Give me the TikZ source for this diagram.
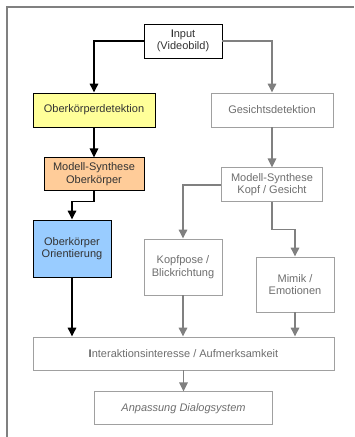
\documentclass[tikz,border=0pt]{standalone}
\usepackage{fontspec}
\setmainfont{Liberation Sans}
\usetikzlibrary{arrows.meta}
\usetikzlibrary{positioning}
\definecolor{ubyellow}{HTML}{FFFF99}
\definecolor{uborange}{HTML}{FFCC99}
\definecolor{ubblue}{HTML}{99CCFF}
\definecolor{passline}{HTML}{A0A0A0}
\definecolor{passtext}{HTML}{6E6E6E}
\definecolor{passarrow}{HTML}{808080}
\tikzset {
  % every block of the flow
  block/.style = {
    rectangle,
    inner sep = 0,
    align = center,
    font = \fontsize{11}{12.5}\selectfont
  },
  % block of the upper body branch
  act/.style = {
    block,
    draw = black,
    line width = 0.9pt,
    text = black!80
  },
  % block of the face branch
  pas/.style = {
    block,
    draw = passline,
    line width = 0.9pt,
    fill = white,
    text = passtext
  }
}
\tikzset {
  flow path/.style = {
    line width = 1.6pt,
    -{Triangle[width=8.5pt,length=9pt]}
  },
  % black connector
  arr/.style = {
    flow path,
    draw = black
  },
  % grey connector
  garr/.style = {
    flow path,
    draw = passarrow
  }
}

\begin{document}
\begin{tikzpicture}[x=1pt,y=-1pt]
    \useasboundingbox (0,0) rectangle (354,437);
    \draw[passarrow, line width=2pt] (7,437) -- (7,7) -- (354,7);

    \node[act, minimum width=78pt, minimum height=34pt] (input) at (183,41)
      {\textcolor{black}{I}nput\\(Videobild)};
    \node[act, fill=ubyellow, minimum width=122pt, minimum height=34pt] (ubdet) at (94,110)
      {Oberkörperdetektion};
    \node[pas, minimum width=122pt, minimum height=34pt] (gesdet) at (272,110)
      {Gesichtsdetektion};
    \node[act, fill=uborange, minimum width=100pt, minimum height=33pt] (msob) [below=30pt of ubdet]
      {Modell-Synthese\\Oberkörper};
    \node[act, fill=ubblue, minimum width=78pt, minimum height=57pt] (orient) at (72,248.5)
      {Oberkörper\\Orientierung};
    \node[pas, minimum width=101pt, minimum height=34pt] (msk) [below=40pt of gesdet]
      {Modell-Synthese\\Kopf / Gesicht};
    \node[pas, minimum width=78pt, minimum height=56pt] (kopf) at (183,267)
      {Kopfpose /\\Blickrichtung};
    \node[pas, minimum width=78pt, minimum height=55pt] (mimik) at (295,284.5)
      {Mimik /\\Emotionen};
    \node[pas, minimum width=301pt, minimum height=33pt] (inter) at (183.5,353.5)
      {\textcolor{black}{I}nteraktionsinteresse / Aufmerksamkeit};
    \node[pas, minimum width=178pt, minimum height=33pt, font=\fontsize{11}{12.5}\selectfont\itshape] (anpass) [below=21pt of inter]
      {Anpassung Dialogsystem};

    \draw[arr] (input.west) -| (ubdet.north);
    \draw[garr] (input.east) -| (gesdet.north);
    \draw[arr] (ubdet) -- (msob);
    \draw[arr] (msob.south) -- ++(0,10) -| (orient.north);
    \draw[arr] (orient.south) -- (orient.south |- inter.north);
    \draw[garr] (gesdet) -- (msk);
    \draw[garr] (msk.west) -| (kopf.north);
    \draw[garr] (msk.south) -- ++(0,27) -| (mimik.north);
    \draw[garr] (kopf.south) -- (kopf.south |- inter.north);
    \draw[garr] (mimik.south) -- (mimik.south |- inter.north);
    \draw[garr] (anpass.north |- inter.south) -- (anpass.north);
  \end{tikzpicture}
\end{document}
